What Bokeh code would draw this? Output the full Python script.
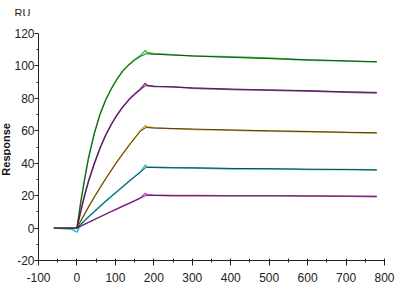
from bokeh.plotting import figure
from bokeh.layouts import row, column
from bokeh.models import FixedTicker
from bokeh.core.properties import value
from bokeh.embed import file_html
from bokeh.resources import INLINE

# ---- data ----
time_fit = [0, 10, 20, 30, 45, 60, 75, 90, 105, 120, 135, 150, 165, 180,
            200, 250, 300, 400, 500, 600, 700, 780]
fit_1 = [0, 16, 30, 43, 58, 70, 79, 86, 92, 97, 100.5, 103.5, 105.8, 107.5,
         107.2, 106.7, 106.2, 105.3, 104.5, 103.8, 103.1, 102.6]
fit_2 = [0, 10.6, 20.1, 28.7, 39.8, 49.2, 57.3, 64.1, 69.9, 74.8, 79.0, 82.4, 85.4, 87.9,
         87.5, 87.0, 86.5, 85.8, 85.2, 84.6, 84.1, 83.7]
fit_3 = [0, 4.4, 8.7, 12.9, 19.0, 24.9, 30.5, 35.9, 41.1, 46.0, 50.8, 55.4, 59.8, 62.0,
         61.7, 61.4, 61.1, 60.5, 60.0, 59.5, 59.1, 58.8]
fit_4 = [0, 2.3, 4.6, 6.8, 10.1, 13.4, 16.5, 19.6, 22.7, 25.7, 28.7, 31.6, 34.5, 37.4,
         37.3, 37.2, 37.1, 36.8, 36.6, 36.3, 36.1, 35.9]
fit_5 = [0, 1.2, 2.4, 3.5, 5.2, 6.9, 8.6, 10.3, 11.9, 13.6, 15.2, 16.8, 18.5, 20.1,
         20.1, 20.0, 20.0, 19.9, 19.9, 19.8, 19.7, 19.6]
baseline_t = [-60, 0]
baseline_v = [0, 0]

time_data = [-60, -20, 0, 10, 20, 30, 45, 60, 75, 90, 105, 120, 135, 150, 165, 178, 182,
             200, 250, 300, 400, 500, 600, 700, 780]
data_1 = [0, -0.5, 0, 16.3, 30.4, 43.3, 58.4, 70.3, 79.3, 86.3, 92.3, 97.3, 100.8, 103.9,
          106.4, 109.5, 108.3, 107.6, 106.9, 106.1, 105.6, 104.8, 103.6, 103.0, 102.4]
data_2 = [0, 0, 0, 10.4, 20.3, 28.9, 39.6, 49.4, 57.5, 64.3, 70.1, 75.0, 79.2, 82.6,
          85.7, 89.3, 88.0, 87.3, 87.2, 86.2, 85.5, 85.0, 84.6, 83.8, 83.3]
data_3 = [0, 0, 0, 4.4, 8.8, 13.0, 19.1, 24.8, 30.5, 36.0, 41.2, 46.1, 50.9, 55.4,
          60.0, 63.2, 62.4, 61.9, 61.3, 60.8, 60.3, 59.8, 59.5, 58.9, 58.5]
data_4 = [0, 0, -2.5, 2.3, 4.6, 6.9, 10.1, 13.4, 16.6, 19.7, 22.7, 25.7, 28.8, 31.7,
          34.6, 38.8, 37.8, 37.6, 37.2, 37.1, 36.5, 36.6, 36.1, 36.1, 35.9]
data_5 = [0, 0, 0, 1.2, 2.4, 3.5, 5.2, 6.9, 8.6, 10.3, 11.9, 13.6, 15.2, 16.8,
          18.5, 21.5, 20.6, 20.3, 20.0, 20.0, 19.9, 19.9, 19.8, 19.6, 19.4]

x_ticks = [-100, 0, 100, 200, 300, 400, 500, 600, 700, 800]
x_minor = [-50, 50, 150, 250, 350, 450, 550, 650, 750]
y_ticks = [-20, 0, 20, 40, 60, 80, 100, 120]
y_minor = [-10, 10, 30, 50, 70, 90, 110]

y_title = "Response"
unit_label = "RU"

colors = ["#2ed22e", "#9a2ea8", "#e3a51e", "#1fc6d2", "#e03be0"]
font = "Liberation Sans, Arial"

# ---- main plot ----
p = figure(width=389, height=284, x_range=(-100, 800), y_range=(-20, 120),
           output_backend="svg", toolbar_location=None,
           min_border_left=25, min_border_right=16, min_border_top=17, min_border_bottom=40)
p.outline_line_color = None
p.xgrid.visible = False
p.ygrid.visible = False
p.background_fill_color = "white"

data_series = [data_1, data_2, data_3, data_4, data_5]
fit_series = [fit_1, fit_2, fit_3, fit_4, fit_5]
for d, c in zip(data_series, colors):
    p.line(time_data, d, line_color=c, line_width=1.6)
for f in fit_series:
    p.line(time_fit, f, line_color="#2a2a2a", line_width=1.0, line_alpha=0.85)
p.line(baseline_t, baseline_v, line_color="#2a2a2a", line_width=1.2)

for ax in (p.xaxis[0], p.yaxis[0]):
    ax.axis_line_color = "#222222"
    ax.major_tick_line_color = "#222222"
    ax.minor_tick_line_color = "#222222"
    ax.major_label_text_font = font
    ax.major_label_text_font_size = "12px"
    ax.major_label_text_color = "#222222"

p.xaxis.ticker = FixedTicker(ticks=x_ticks, minor_ticks=x_minor)
p.yaxis.ticker = FixedTicker(ticks=y_ticks, minor_ticks=y_minor)
p.xaxis.major_label_overrides = {-100: "-100"}
p.yaxis.major_label_overrides = {-20: "-20"}
p.xaxis.major_tick_in = 2
p.xaxis.major_tick_out = 5
p.xaxis.minor_tick_in = 2
p.xaxis.minor_tick_out = 2
p.xaxis.major_label_standoff = 7
p.yaxis.major_tick_in = 0
p.yaxis.major_tick_out = 4
p.yaxis.minor_tick_in = 0
p.yaxis.minor_tick_out = 2
p.yaxis.major_label_standoff = 0

# ---- left strip holding the rotated y-axis title ----
left = figure(width=11, height=284, x_range=(0, 11), y_range=(0, 284),
              output_backend="svg", toolbar_location=None,
              x_axis_location=None, y_axis_location=None, min_border=0)
left.outline_line_color = None
left.grid.visible = False
left.text(x=[5.8], y=[139], text=[y_title], angle=1.5707963,
          text_align="center", text_baseline="middle",
          text_font=value(font), text_font_style="bold",
          text_font_size="11px", text_color="#111111")

# ---- top strip holding the unit label ----
top = figure(width=400, height=16, x_range=(0, 400), y_range=(0, 16),
             output_backend="svg", toolbar_location=None,
             x_axis_location=None, y_axis_location=None, min_border=0)
top.outline_line_color = None
top.grid.visible = False
top.text(x=[14], y=[4], text=[unit_label], text_align="left", text_baseline="alphabetic",
         text_font=value(font), text_font_size="11px", text_color="#222222")

layout = column(top, row(left, p, spacing=0), spacing=0)

open("out.html", "w").write(file_html(layout, INLINE))
